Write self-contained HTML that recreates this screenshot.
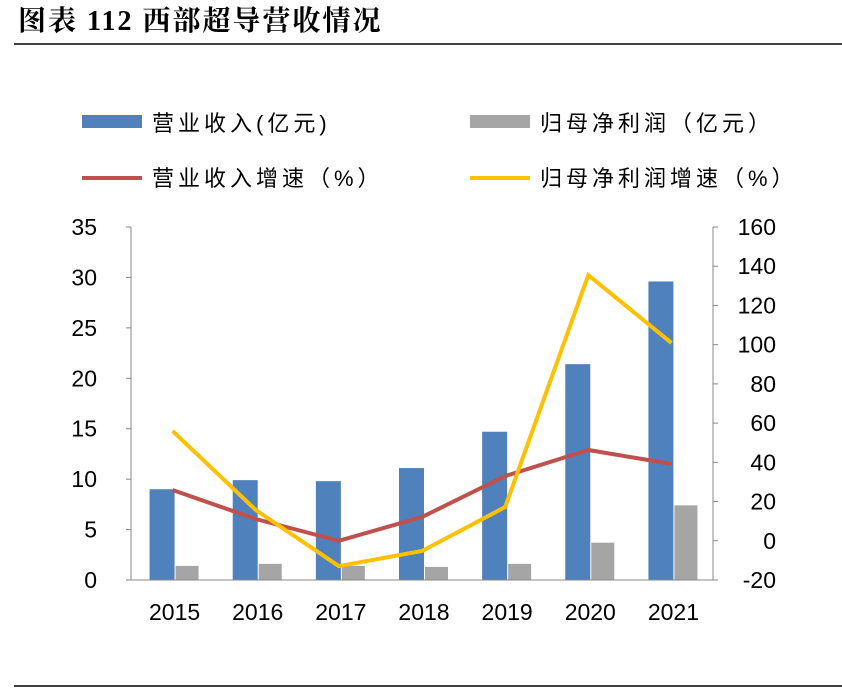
<!DOCTYPE html>
<html><head><meta charset="utf-8">
<style>
body{margin:0;background:#fff;width:842px;height:689px;overflow:hidden;font-family:"Liberation Sans","Noto Sans CJK SC",sans-serif;}
svg text{font-family:"Liberation Sans","Noto Sans CJK SC",sans-serif;}
</style></head>
<body>
<svg width="842" height="689" xmlns="http://www.w3.org/2000/svg">
<text x="18" y="30" font-size="28" font-weight="bold" letter-spacing="2" fill="#000" style="font-family:'Liberation Serif','Noto Serif CJK SC',serif">图表 112 西部超导营收情况</text>
<line x1="14" y1="44" x2="842" y2="44" stroke="#000" stroke-width="1.5"/>
<line x1="14" y1="686" x2="842" y2="686" stroke="#000" stroke-width="1.5"/>
<g id="legend">
<rect x="82" y="115" width="60" height="13" fill="#4F81BD"/>
<text x="152" y="131" font-size="22" letter-spacing="4">营业收入(亿元)</text>
<rect x="470" y="115" width="60" height="13" fill="#A5A5A5"/>
<text x="540" y="131" font-size="22" letter-spacing="4">归母净利润（亿元）</text>
<line x1="82" y1="178" x2="142" y2="178" stroke="#C0504D" stroke-width="4"/>
<text x="152" y="186" font-size="22" letter-spacing="4">营业收入增速（%）</text>
<line x1="470" y1="178" x2="530" y2="178" stroke="#FFC000" stroke-width="4"/>
<text x="540" y="186" font-size="22" letter-spacing="4">归母净利润增速（%）</text>
</g>
<g id="plot"></g>
</svg>
<script>
const categories=["2015","2016","2017","2018","2019","2020","2021"];
const revenue=[9.0,9.9,9.8,11.1,14.7,21.4,29.6];
const profit=[1.4,1.6,1.4,1.3,1.6,3.7,7.4];
const revenueGrowth=[25.9,11.1,0,12.1,33.0,46.3,39.2];
const profitGrowth=[56.0,15.7,-12.9,-5.2,17.2,135.5,100.9];
const leftTicks=[0,5,10,15,20,25,30,35];
const rightTicks=[-20,0,20,40,60,80,100,120,140,160];

const NS="http://www.w3.org/2000/svg";
const g=document.getElementById('plot');
const X0=131,X1=713,Y0=580,Y1=227;
const bw=(X1-X0)/categories.length;
const xc=i=>X0+bw*(i+0.5);
const yL=v=>Y0-(v-0)/(35-0)*(Y0-Y1);
const yR=v=>Y0-(v+20)/(180)*(Y0-Y1);
function mk(t,a){const e=document.createElementNS(NS,t);for(const k in a)e.setAttribute(k,a[k]);g.appendChild(e);return e;}

categories.forEach((c,i)=>{
 let r=mk('rect',{x:xc(i)-23,y:yL(revenue[i]),width:25,height:Y0-yL(revenue[i]),fill:'#4F81BD'});
 
 
 let p=mk('rect',{x:xc(i)+3,y:yL(profit[i]),width:23,height:Y0-yL(profit[i]),fill:'#A5A5A5'});
 
 
 let t=mk('text',{x:xc(i)+2,y:620,'font-size':23,'text-anchor':'middle'});t.textContent=c;
 
 
});
let ax=mk('line',{x1:X0,y1:Y1,x2:X0,y2:Y0,stroke:'#888'});


let ax2=mk('line',{x1:X1,y1:Y1,x2:X1,y2:Y0,stroke:'#888'});


let ax3=mk('line',{x1:X0,y1:Y0,x2:X1,y2:Y0,stroke:'#888'});


leftTicks.forEach(v=>{
 let t=mk('text',{x:97,y:yL(v)+8,'font-size':23,'text-anchor':'end'});t.textContent=v;
 
 
 mk('line',{x1:X0-5,y1:yL(v),x2:X0,y2:yL(v),stroke:'#888'});
});
rightTicks.forEach(v=>{
 let t=mk('text',{x:776,y:yR(v)+8,'font-size':23,'text-anchor':'end'});t.textContent=v;
 
 
 mk('line',{x1:X1,y1:yR(v),x2:X1+5,y2:yR(v),stroke:'#888'});
});
let l1=mk('polyline',{points:revenueGrowth.map((v,i)=>xc(i)+','+yR(v)).join(' '),fill:'none',stroke:'#C0504D','stroke-width':4});


let l2=mk('polyline',{points:profitGrowth.map((v,i)=>xc(i)+','+yR(v)).join(' '),fill:'none',stroke:'#FFC000','stroke-width':4});


</script>
</body></html>
